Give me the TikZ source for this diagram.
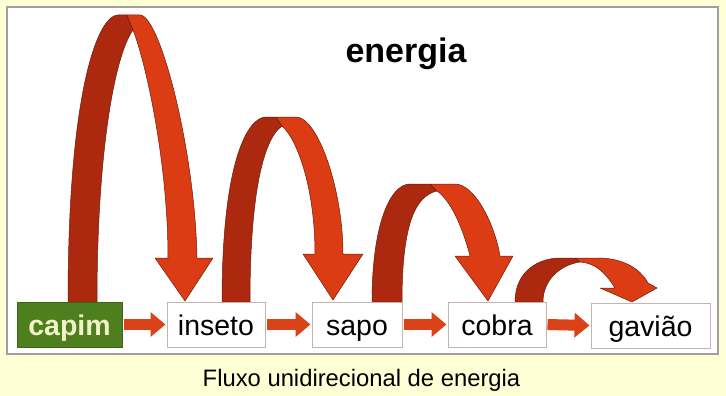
\documentclass[tikz,border=0pt]{standalone}
\usepackage{fontspec}
\setmainfont{Liberation Sans}
\usetikzlibrary{arrows.meta}
\definecolor{cream}{RGB}{255,255,214}
\definecolor{ribdark}{RGB}{172,40,14}
\definecolor{ribbright}{RGB}{220,60,20}
\definecolor{ribline}{RGB}{105,30,12}
\definecolor{boxline}{RGB}{196,180,172}
\definecolor{grass}{RGB}{78,127,30}
\definecolor{grasstext}{RGB}{242,242,200}
\definecolor{smallred}{RGB}{218,66,26}
\begin{document}
\begin{tikzpicture}[x=1pt,y=-1pt,
  ribd/.style={fill=ribdark,draw=ribline,line width=0.5pt,line join=round},
  ribb/.style={fill=ribbright,draw=ribline,line width=0.5pt,line join=round},
  foodbox/.style={draw=boxline,line width=1pt,fill=white,minimum height=45pt,inner sep=0pt,
     text height=24pt,text depth=3pt,font=\fontsize{28.5}{30}\selectfont},
  smallarrow/.style={draw=smallred,line width=11pt,-{Triangle[length=15pt 0,width=24pt 0]},shorten <=1pt,shorten >=1pt}]
\useasboundingbox (0,0) rectangle (726,396);
\fill[cream] (0,0) rectangle (726,396);
\draw[fill=white,draw=gray!75,line width=1.5pt] (7,7) rectangle (718,354);
% arc 1
\path[ribd] (68,302) .. controls (68,90) and (98,15) .. (118,15) -- (127,15) -- (133,30)
  .. controls (115,55) and (97,150) .. (97,302) -- cycle;
\path[ribb] (127,15) -- (140,15) .. controls (160,15) and (195,150) .. (197,258) -- (213,258)
  -- (185,301) -- (155,258) -- (168,258) .. controls (168,160) and (145,60) .. (133,30) -- cycle;
% arc 2
\path[ribd] (222,302) .. controls (222,160) and (248,117) .. (266,117) -- (276,117) -- (282,126)
  .. controls (262,140) and (250,200) .. (250,302) -- cycle;
\path[ribb] (276,117) -- (296,117) .. controls (318,117) and (343,190) .. (343,254) -- (363,254)
  -- (333,300) -- (303,254) -- (315,254) .. controls (315,190) and (298,140) .. (282,126) -- cycle;
% arc 3
\path[ribd] (372,302) .. controls (372,225) and (390,184) .. (410,184) -- (430,184) -- (437,191)
  .. controls (415,196) and (402,225) .. (402,302) -- cycle;
\path[ribb] (430,184) -- (455,184) .. controls (475,184) and (495,225) .. (500,256) -- (513,256)
  -- (488,301) -- (455,256) -- (470,256) .. controls (462,225) and (450,200) .. (437,191) -- cycle;
% arc 4
\path[ribd] (515,302) .. controls (515,270) and (540,258) .. (560,258) -- (575,258) -- (580,262)
  .. controls (560,265) and (543,280) .. (543,302) -- cycle;
\path[ribb] (575,258) -- (598,258) .. controls (622,258) and (640,268) .. (648,283) -- (657,288)
  -- (632,302) -- (600,288) -- (615,288) .. controls (605,272) and (595,263) .. (580,262) -- cycle;
% boxes
\node[foodbox,fill=grass,draw=grass!80!black,text=grasstext,font=\fontsize{28.5}{30}\selectfont\bfseries,minimum width=105pt] (capim) at (69.5,324.5) {capim};
\node[foodbox,minimum width=98pt] (inseto) at (216,324.5) {inseto};
\node[foodbox,minimum width=90pt] (sapo) at (357,324.5) {sapo};
\node[foodbox,minimum width=98pt] (cobra) at (497,324.5) {cobra};
\node[foodbox,minimum width=119pt] (gaviao) at (650.5,325.5) {gavião};
% small arrows
\draw[smallarrow] (capim.east) -- (inseto.west);
\draw[smallarrow] (inseto.east) -- (sapo.west);
\draw[smallarrow] (sapo.east) -- (cobra.west);
\draw[smallarrow] (cobra.east) -- (gaviao.west);
% texts
\node[anchor=base,inner sep=0pt,font=\fontsize{34}{36}\selectfont\bfseries] (title) at (406,63) {energia};
\node[anchor=base,inner sep=0pt,font=\fontsize{23.8}{26}\selectfont] (caption) at (361.5,386) {Fluxo unidirecional de energia};
\end{tikzpicture}
\end{document}
